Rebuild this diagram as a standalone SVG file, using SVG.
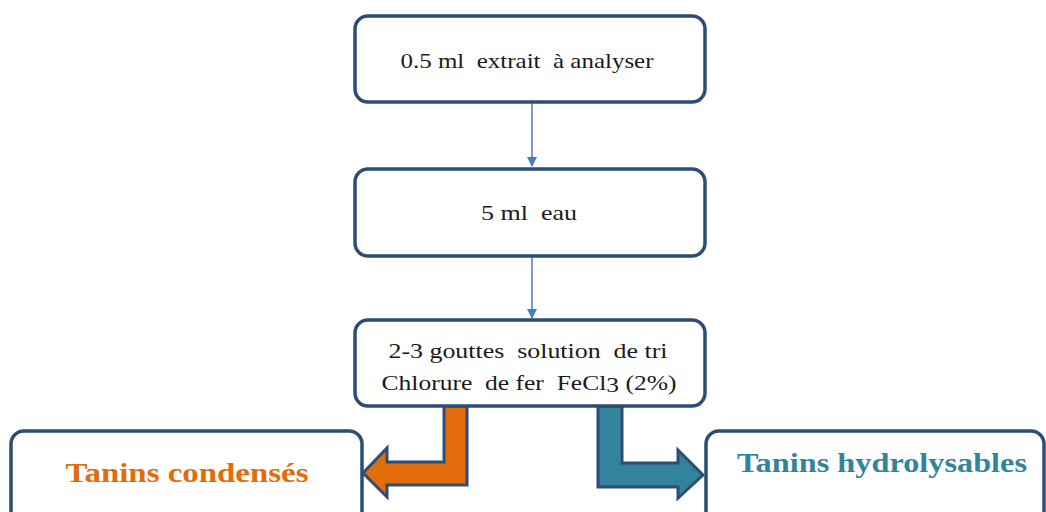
<svg xmlns="http://www.w3.org/2000/svg" width="1046" height="512" viewBox="0 0 1046 512">
<style>
.box{fill:#ffffff;stroke:#2e4d75;stroke-width:3.5}
.t{font-family:"Liberation Serif",serif;font-size:22px;fill:#1a1a1a;text-anchor:middle;white-space:pre}
.b{font-family:"Liberation Serif",serif;font-size:28px;font-weight:bold;text-anchor:middle}
.conn{stroke:#4a7ebb;stroke-width:1.5;fill:none}
.big{stroke:#2e4d75;stroke-width:3;stroke-linejoin:miter}
</style>
<defs>
<marker id="ah" markerWidth="10" markerHeight="10" refX="9" refY="5" orient="auto" markerUnits="userSpaceOnUse">
<path d="M0,0 L10,5 L0,10 Z" fill="#4a7ebb"/>
</marker>
</defs>
<rect width="1046" height="512" fill="#ffffff"/>
<g id="connectors">
<line class="conn" x1="532" y1="103" x2="532" y2="166" marker-end="url(#ah)"/>
<line class="conn" x1="532" y1="257" x2="532" y2="318" marker-end="url(#ah)"/>
<path class="big" fill="#e36c0a" d="M444,406 L467,406 L467,485 L387,485 L387,497 L363,473 L387,448 L387,462 L444,462 Z"/>
<path class="big" fill="#31849b" d="M598,406 L622,406 L622,463 L678,463 L678,450 L703,475 L678,498 L678,487 L598,487 Z"/>
</g>
<g id="n1">
<rect class="box" x="355" y="16" width="350" height="86" rx="13"/>
<text class="t" x="527" y="68" xml:space="preserve" textLength="253" lengthAdjust="spacingAndGlyphs">0.5 ml  extrait  à analyser</text>
</g>
<g id="n2">
<rect class="box" x="355" y="169" width="350" height="87" rx="13"/>
<text class="t" x="529" y="220" xml:space="preserve" textLength="96" lengthAdjust="spacingAndGlyphs">5 ml  eau</text>
</g>
<g id="n3">
<rect class="box" x="355" y="320" width="350" height="86" rx="13"/>
<text class="t" x="528" y="358" xml:space="preserve" textLength="279" lengthAdjust="spacingAndGlyphs">2-3 gouttes  solution  de tri</text>
<text class="t" x="529" y="390" xml:space="preserve" textLength="295" lengthAdjust="spacingAndGlyphs">Chlorure  de fer  FeCl<tspan dy="2">3</tspan><tspan dy="-2"> (2%)</tspan></text>
</g>
<g id="n4">
<rect class="box" x="11" y="431" width="351" height="100" rx="13"/>
<text class="b" x="187" y="482" fill="#e36c0a" textLength="243" lengthAdjust="spacingAndGlyphs">Tanins condensés</text>
</g>
<g id="n5">
<rect class="box" x="706" y="431" width="338" height="100" rx="13"/>
<text class="b" x="882" y="472" fill="#31849b" textLength="290" lengthAdjust="spacingAndGlyphs">Tanins hydrolysables</text>
</g>
</svg>
